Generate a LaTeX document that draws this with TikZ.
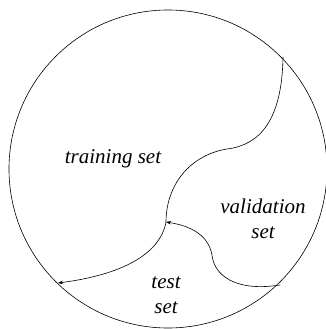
\documentclass[tikz,border=0pt]{standalone}
\usepackage{fontspec}
\setmainfont{Liberation Serif}
\usetikzlibrary{arrows.meta}
\begin{document}
\begin{tikzpicture}[x=1pt,y=-1pt,
  line width=0.6pt,
  boundary/.style={draw=black},
  splitarrow/.style={draw=black,-{Stealth[length=5pt,width=3.6pt]}},
  setlabel/.style={font=\fontsize{21}{25}\selectfont\itshape,align=center,inner sep=0pt}]
\useasboundingbox (0,0) rectangle (325,329);

% the whole data set
\coordinate (O) at (168,169);
\draw[boundary] (O) circle[radius=159pt];

% points where the partitions meet
\coordinate (top) at (283,57);
\coordinate (bump) at (227,149);
\coordinate (mid) at (166,222);
\coordinate (left) at (58,283);
\coordinate (right) at (280,285);
\coordinate (dent) at (212,255);

% training / validation boundary
\draw[boundary] (top) .. controls (282,120) and (260,145) .. (bump)
  .. controls (190,155) and (166,185) .. (mid);
% training / test boundary
\draw[splitarrow] (mid) .. controls (160,255) and (120,275) .. (left);
% validation / test boundary
\draw[splitarrow] (right) .. controls (235,292) and (214,275) .. (dent)
  .. controls (208,232) and (185,225) .. (mid);

% labels
\node[setlabel,anchor=base] (train) at (113,163) {training set};
\node[setlabel] (valid) at (263,218.5) {validation\\set};
\node[setlabel] (test) at (166,295.5) {test\\set};
\end{tikzpicture}
\end{document}
